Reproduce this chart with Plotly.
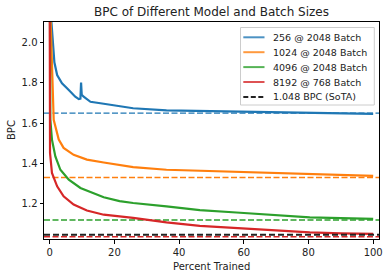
import plotly.graph_objects as go

# ---- data ----
blue_x = [0.3, 0.9, 1.45, 2.3, 3.8, 5.9, 7.9, 9.0, 9.5, 9.7, 9.9, 10.5, 12.6, 16.7, 21.6, 25.8, 36.1, 46.4, 57.7, 70, 80, 90, 100]
blue_y = [2.15, 2.0, 1.90, 1.837, 1.796, 1.763, 1.73, 1.718, 1.72, 1.80, 1.74, 1.73, 1.705, 1.695, 1.683, 1.673, 1.662, 1.659, 1.654, 1.651, 1.649, 1.647, 1.645]

orange_x = [0.1, 1.24, 2.8, 4.3, 7.4, 11.5, 16.7, 21.6, 25.8, 36.1, 46.4, 57.7, 70, 80.4, 90, 100]
orange_y = [2.2, 1.616, 1.518, 1.477, 1.443, 1.419, 1.405, 1.393, 1.382, 1.369, 1.364, 1.358, 1.351, 1.346, 1.342, 1.339]

green_x = [0.05, 0.2, 0.7, 1.75, 3.3, 5.9, 9.5, 13.6, 16.7, 21.6, 25.8, 36.1, 46.4, 57.7, 70, 80.4, 90, 100]
green_y = [2.3, 1.616, 1.518, 1.435, 1.369, 1.32, 1.279, 1.251, 1.233, 1.214, 1.205, 1.188, 1.17, 1.158, 1.144, 1.134, 1.13, 1.126]

red_x = [0.0, 0.1, 0.7, 2.3, 4.3, 7.4, 11.5, 16.7, 25.8, 36.1, 46.4, 57.7, 70, 80.4, 90, 100]
red_y = [2.3, 1.452, 1.353, 1.287, 1.238, 1.197, 1.168, 1.147, 1.131, 1.109, 1.092, 1.081, 1.069, 1.06, 1.055, 1.052]

series_names = ["256 @ 2048 Batch", "1024 @ 2048 Batch", "4096 @ 2048 Batch", "8192 @ 768 Batch"]
series_colors = ["#1f77b4", "#ff7f0e", "#2ca02c", "#d62728"]
legend_colors = ["rgba(31,119,180,0.8)", "rgba(255,127,14,0.8)", "rgba(44,160,44,0.8)", "rgba(214,39,40,0.8)"]
final_bpc = [1.649, 1.331, 1.121, 1.038]   # dashed reference levels per model
sota_bpc = 1.048
sota_name = "1.048 BPC (SoTA)"
sota_color = "#222222"

x_ticks = [0, 20, 40, 60, 80, 100]
y_ticks = [1.2, 1.4, 1.6, 1.8, 2.0]
x_range = [-1.76, 101.8]
y_range = [1.027, 2.099]

W, H = 390, 278
ML, MR, MT, MB = 44, 11, 22, 39
PW, PH = W - ML - MR, H - MT - MB

def px_to_paper(px, py):
    return (px - ML) / PW, (H - MB - py) / PH

fig = go.Figure()

xs = [blue_x, orange_x, green_x, red_x]
ys = [blue_y, orange_y, green_y, red_y]

# dashed level lines (drawn first, behind curves)
for lvl, col in zip(final_bpc, series_colors):
    fig.add_trace(go.Scatter(x=x_range, y=[lvl, lvl], mode="lines",
                             line=dict(color=col, width=1.4, dash="6px,2.5px"),
                             showlegend=False, hoverinfo="skip"))

for x, y, name, col in zip(xs, ys, series_names, series_colors):
    fig.add_trace(go.Scatter(x=x, y=y, mode="lines", name=name, showlegend=False,
                             line=dict(color=col, width=2.2)))

fig.add_trace(go.Scatter(x=x_range, y=[sota_bpc, sota_bpc], mode="lines", name=sota_name,
                         showlegend=False, line=dict(color=sota_color, width=2, dash="6px,3px")))

# ---- compact legend (matplotlib style) ----
shapes, annotations = [], []
bx0, by0 = px_to_paper(240.5, 27.5)
bx1, by1 = px_to_paper(374.3, 105)
shapes.append(dict(type="rect", xref="paper", yref="paper", x0=bx0, x1=bx1, y0=by1, y1=by0,
                   line=dict(color="#cccccc", width=1), fillcolor="rgba(255,255,255,0.85)", layer="above"))
leg_names = series_names + [sota_name]
leg_colors = legend_colors + [sota_color]
leg_dash = ["solid"] * 4 + ["5px,2.5px"]
for i, (nm, col, ds) in enumerate(zip(leg_names, leg_colors, leg_dash)):
    cy = 37.3 + 14.9 * i
    lx0, ly = px_to_paper(243.3, cy)
    lx1, _ = px_to_paper(264.5, cy)
    tx, _ = px_to_paper(270.5, cy)
    shapes.append(dict(type="line", xref="paper", yref="paper", x0=lx0, x1=lx1, y0=ly, y1=ly,
                       line=dict(color=col, width=2, dash=ds), layer="above"))
    annotations.append(dict(text=nm, xref="paper", yref="paper", x=tx, y=ly, xanchor="left",
                            yanchor="middle", showarrow=False, font=dict(size=9.5, color="#222")))

# axis titles
yt_x, yt_y = px_to_paper(11.5, 130.5)
annotations.append(dict(text="BPC", xref="paper", yref="paper", x=yt_x, y=yt_y, textangle=-90,
                        xanchor="center", yanchor="middle", showarrow=False,
                        font=dict(size=10, color="#222")))
xt_x, xt_y = px_to_paper(211.5, 266.5)
annotations.append(dict(text="Percent Trained", xref="paper", yref="paper", x=xt_x, y=xt_y,
                        xanchor="center", yanchor="middle", showarrow=False,
                        font=dict(size=10, color="#222")))

fig.update_layout(
    width=W, height=H,
    margin=dict(l=ML, r=MR, t=MT, b=MB),
    paper_bgcolor="white", plot_bgcolor="white",
    font=dict(family="DejaVu Sans", size=10, color="#222"),
    title=dict(text="BPC of Different Model and Batch Sizes", x=0.5, xanchor="center",
               xref="paper", y=1 - 12/278, yanchor="middle", font=dict(size=12, color="#222")),
    showlegend=False,
    shapes=shapes, annotations=annotations,
)
fig.update_xaxes(range=x_range, showgrid=False, zeroline=False, showline=True, mirror=True,
                 linecolor="black", linewidth=1, ticks="outside", ticklen=3.5, tickcolor="black",
                 automargin=False, tickvals=x_ticks)
fig.update_yaxes(range=y_range, showgrid=False, zeroline=False, showline=True, mirror=True,
                 linecolor="black", linewidth=1, ticks="outside", ticklen=3.5, tickcolor="black",
                 automargin=False, tickvals=y_ticks, tickformat=".1f")

fig.write_html("out.html", config={"displayModeBar": False},
               post_script="document.body.style.margin='0';document.body.style.overflow='hidden';")
